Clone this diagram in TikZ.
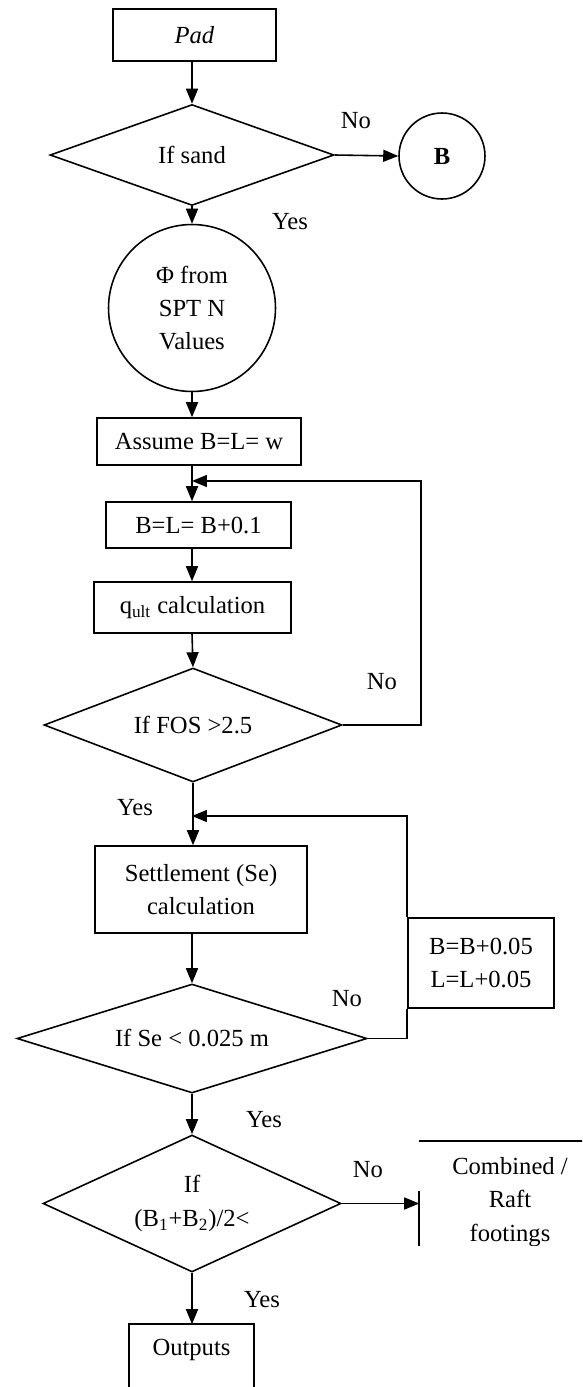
\documentclass[tikz,border=0pt]{standalone}
\usepackage{fontspec}
\setmainfont{Liberation Serif}
\usetikzlibrary{shapes.geometric,arrows.meta}

\tikzset{
  box/.style={draw,rectangle,inner sep=0pt,align=center},
  openbox/.style={rectangle,inner sep=0pt,align=center},
  dec/.style={draw,diamond,inner sep=0pt,align=center,shape aspect=#1},
  circ/.style={draw,circle,inner sep=0pt,align=center},
  lbl/.style={inner sep=0pt},
  arr/.style={-{Triangle[length=3mm,width=2.4mm]}},
}

\begin{document}
\begin{tikzpicture}[x=0.02cm,y=-0.02cm,line width=0.9pt,
                    font=\fontsize{14}{19}\selectfont]

% Canvas in reference pixels: 582 x 1387, y grows downwards
\useasboundingbox (0,0) rectangle (582,1387);

% ── Main column ──────────────────────────────────────────────────────────────
\node[box,minimum width=3.26cm,minimum height=1.04cm] (pad) at (194.5,35) {\textit{Pad}};
\node[dec=2.8,minimum width=5.68cm,minimum height=2.02cm] (sand) at (192,155) {If sand};
\node[circ,minimum size=1.72cm] (b) at (442,156) {\textbf{B}};
\node[circ,minimum size=3.34cm] (phi) at (192,308) {Φ from\\SPT N\\Values};
\node[box,minimum width=4.08cm,minimum height=0.94cm] (asm) at (199,441.5) {Assume B=L= w};
\node[box,minimum width=3.7cm,minimum height=0.92cm] (bl) at (198.5,525) {B=L= B+0.1};
\node[box,minimum width=3.94cm,minimum height=1.02cm] (qult) at (192.5,607.5) {q\textsubscript{ult} calculation};
\node[dec=2.6,minimum width=5.96cm,minimum height=2.28cm] (fos) at (193,725) {If FOS >2.5};
\node[box,minimum width=4.24cm,minimum height=1.74cm] (settle) at (201,889.5) {Settlement (Se)\\calculation};
\node[dec=3.2,minimum width=7cm,minimum height=2.18cm] (se) at (192,1038.5) {If Se < 0.025 m};
\node[box,minimum width=2.92cm,minimum height=1.8cm] (upd) at (481,963) {B=B+0.05\\L=L+0.05};
\node[dec=2.2,minimum width=5.96cm,minimum height=2.74cm] (fin) at (192,1203.5) {If\\(B\textsubscript{1}+B\textsubscript{2})/2<};
\node[openbox,minimum width=2.46cm,minimum height=1cm] (outp) at (191.5,1350) {Outputs};

% Combined / raft box, cut off at the lower and right edges
\begin{scope}
  \clip (400,1130) rectangle (582,1245);
  \node[openbox,minimum width=3.6cm,minimum height=2.4cm] (comb) at (510,1202)
    {Combined /\\Raft\\footings};
  \draw (comb.north west) -- (comb.north east);
  \draw ([yshift=-1cm]comb.north west) -- (comb.south west);
\end{scope}

% Outputs box runs off the bottom of the page
\draw ([yshift=-1cm]outp.south west) |- (outp.north east) -- ([yshift=-1cm]outp.south east);

% ── Loop joints ──────────────────────────────────────────────────────────────
\coordinate (j1) at (192,481);
\coordinate (r1) at (421,481);
\coordinate (j2) at (192,816);

% ── Connectors ───────────────────────────────────────────────────────────────
\draw[arr] (pad.south -| sand.north) -- (sand.north);
\draw[arr] (sand.east) -- (b.west);
\draw[arr] (sand.south) -- (phi.north);
\draw[arr] (phi.south) -- (phi.south |- asm.north);
\draw[arr] (phi.south |- asm.south) -- (phi.south |- bl.north);
\draw[arr] (phi.south |- bl.south) -- (phi.south |- qult.north);
\draw[arr] (phi.south |- qult.south) -- (fos.north);
\draw[arr] (fos.east) -- (fos.east -| r1) -- (r1) -- (j1);
\draw[arr] (fos.south) -- (fos.south |- settle.north);
\draw[arr] (phi.south |- settle.south) -- (se.north);
\draw (se.east) -- (se.east -| upd.west) -- (upd.south west);
\draw[arr] (upd.north west) |- (j2);
\draw[arr] (se.south) -- (fin.north);
\draw[arr] (fin.east) -- (fin.east -| comb.west);
\draw[arr] (fin.south) -- (fin.south |- outp.north);

% ── Branch labels ────────────────────────────────────────────────────────────
\node[lbl] (no1)  at (356,121)  {No};
\node[lbl] (yes1) at (290,222)  {Yes};
\node[lbl] (no2)  at (382,682)  {No};
\node[lbl] (yes2) at (135,808)  {Yes};
\node[lbl] (no3)  at (347,999)  {No};
\node[lbl] (yes3) at (264,1120) {Yes};
\node[lbl] (no4)  at (368,1170) {No};
\node[lbl] (yes4) at (262,1300) {Yes};

\end{tikzpicture}
\end{document}
